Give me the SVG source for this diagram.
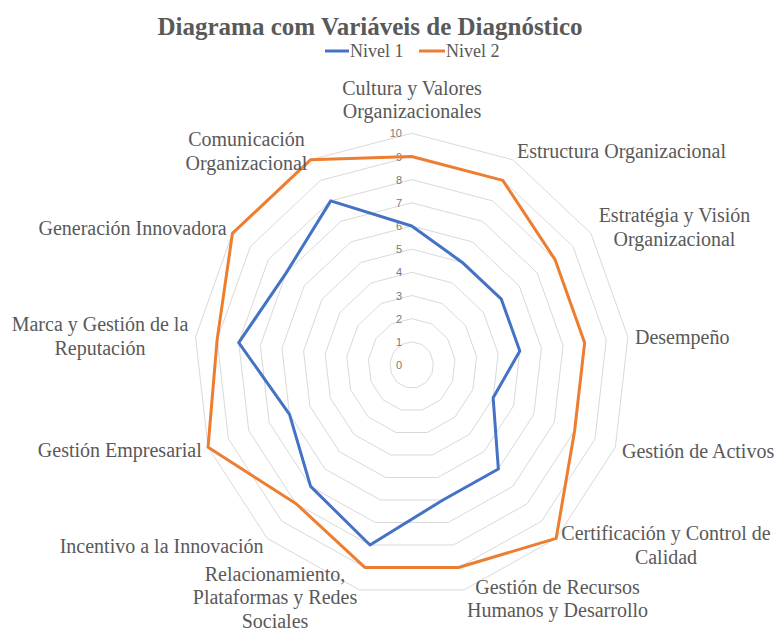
<svg xmlns="http://www.w3.org/2000/svg" width="778" height="630" viewBox="0 0 778 630">
<style>
  .ring{fill:none;stroke:#D9D9D9;stroke-width:1;vector-effect:non-scaling-stroke}
  .tick{font-family:"Liberation Sans",Arial,sans-serif;font-size:11px;fill:#7a7a7a;text-anchor:end}
  .lbl{font-family:"Liberation Serif","Times New Roman",serif;font-size:20px;fill:#595959}
  .mid{text-anchor:middle}
  .end{text-anchor:end}
  .s1{fill:none;stroke:#4472C4;stroke-width:3;stroke-linejoin:round}
  .s2{fill:none;stroke:#ED7D31;stroke-width:3;stroke-linejoin:round}
  .title{font-family:"Liberation Serif","Times New Roman",serif;font-size:25px;font-weight:bold;fill:#595959;text-anchor:middle}
  .leg{font-family:"Liberation Serif","Times New Roman",serif;font-size:18px;fill:#595959}
</style>
<rect width="778" height="630" fill="#FFFFFF"/>
<g id="title"><text class="title" x="370" y="35">Diagrama com Variáveis de Diagnóstico</text></g>
<g id="legend">
  <line x1="325" y1="51" x2="349" y2="51" stroke="#4472C4" stroke-width="3"/>
  <text class="leg" x="350" y="57">Nivel 1</text>
  <line x1="419" y1="51" x2="445" y2="51" stroke="#ED7D31" stroke-width="3"/>
  <text class="leg" x="446" y="57">Nivel 2</text>
</g>
<g id="grid">
  <polygon class="ring" transform="translate(411.7 365) scale(1)" points="0,-23.17 10.122,-20.516 17.925,-13.162 21.621,-2.793 20.365,8.216 14.443,17.343 5.212,22.497 -5.212,22.497 -14.443,17.343 -20.365,8.216 -21.621,-2.793 -17.925,-13.162 -10.122,-20.516"/>
  <polygon class="ring" transform="translate(411.7 365) scale(2)" points="0,-23.17 10.122,-20.516 17.925,-13.162 21.621,-2.793 20.365,8.216 14.443,17.343 5.212,22.497 -5.212,22.497 -14.443,17.343 -20.365,8.216 -21.621,-2.793 -17.925,-13.162 -10.122,-20.516"/>
  <polygon class="ring" transform="translate(411.7 365) scale(3)" points="0,-23.17 10.122,-20.516 17.925,-13.162 21.621,-2.793 20.365,8.216 14.443,17.343 5.212,22.497 -5.212,22.497 -14.443,17.343 -20.365,8.216 -21.621,-2.793 -17.925,-13.162 -10.122,-20.516"/>
  <polygon class="ring" transform="translate(411.7 365) scale(4)" points="0,-23.17 10.122,-20.516 17.925,-13.162 21.621,-2.793 20.365,8.216 14.443,17.343 5.212,22.497 -5.212,22.497 -14.443,17.343 -20.365,8.216 -21.621,-2.793 -17.925,-13.162 -10.122,-20.516"/>
  <polygon class="ring" transform="translate(411.7 365) scale(5)" points="0,-23.17 10.122,-20.516 17.925,-13.162 21.621,-2.793 20.365,8.216 14.443,17.343 5.212,22.497 -5.212,22.497 -14.443,17.343 -20.365,8.216 -21.621,-2.793 -17.925,-13.162 -10.122,-20.516"/>
  <polygon class="ring" transform="translate(411.7 365) scale(6)" points="0,-23.17 10.122,-20.516 17.925,-13.162 21.621,-2.793 20.365,8.216 14.443,17.343 5.212,22.497 -5.212,22.497 -14.443,17.343 -20.365,8.216 -21.621,-2.793 -17.925,-13.162 -10.122,-20.516"/>
  <polygon class="ring" transform="translate(411.7 365) scale(7)" points="0,-23.17 10.122,-20.516 17.925,-13.162 21.621,-2.793 20.365,8.216 14.443,17.343 5.212,22.497 -5.212,22.497 -14.443,17.343 -20.365,8.216 -21.621,-2.793 -17.925,-13.162 -10.122,-20.516"/>
  <polygon class="ring" transform="translate(411.7 365) scale(8)" points="0,-23.17 10.122,-20.516 17.925,-13.162 21.621,-2.793 20.365,8.216 14.443,17.343 5.212,22.497 -5.212,22.497 -14.443,17.343 -20.365,8.216 -21.621,-2.793 -17.925,-13.162 -10.122,-20.516"/>
  <polygon class="ring" transform="translate(411.7 365) scale(9)" points="0,-23.17 10.122,-20.516 17.925,-13.162 21.621,-2.793 20.365,8.216 14.443,17.343 5.212,22.497 -5.212,22.497 -14.443,17.343 -20.365,8.216 -21.621,-2.793 -17.925,-13.162 -10.122,-20.516"/>
  <polygon class="ring" transform="translate(411.7 365) scale(10)" points="0,-23.17 10.122,-20.516 17.925,-13.162 21.621,-2.793 20.365,8.216 14.443,17.343 5.212,22.497 -5.212,22.497 -14.443,17.343 -20.365,8.216 -21.621,-2.793 -17.925,-13.162 -10.122,-20.516"/>
</g>
<g id="ticks">
  <text class="tick" x="402" y="369">0</text>
  <text class="tick" x="402" y="345.8">1</text>
  <text class="tick" x="402" y="322.7">2</text>
  <text class="tick" x="402" y="299.5">3</text>
  <text class="tick" x="402" y="276.3">4</text>
  <text class="tick" x="402" y="253.2">5</text>
  <text class="tick" x="402" y="230">6</text>
  <text class="tick" x="402" y="206.8">7</text>
  <text class="tick" x="402" y="183.6">8</text>
  <text class="tick" x="402" y="160.5">9</text>
  <text class="tick" x="402" y="137.3">10</text>
</g>
<g id="series">
  <polygon id="nivel1" class="s1" points="411.7,226 462.31,262.42 501.33,299.19 519.81,351.03 493.16,397.86 498.36,469.06 442.97,499.98 370,544.98 310.6,486.4 289.51,414.3 238.73,342.66 286.22,272.87 330.72,200.87"/>
  <polygon id="nivel2" class="s2" points="411.7,156.47 502.8,180.36 555.1,259.7 584.67,342.66 574.62,430.73 556.13,538.43 458.61,567.47 364.79,567.47 296.16,503.74 208.05,447.16 217.11,339.86 232.45,233.38 310.48,159.84"/>
</g>
<g id="axis-cultura"><text class="lbl mid" x="412" y="94.5">Cultura y Valores</text><text class="lbl mid" x="412" y="117.5">Organizacionales</text></g>
<g id="axis-estructura"><text class="lbl" x="517" y="157.5">Estructura Organizacional</text></g>
<g id="axis-estrategia"><text class="lbl mid" x="674.5" y="222">Estratégia y Visión</text><text class="lbl mid" x="674.5" y="245.5">Organizacional</text></g>
<g id="axis-desempeno"><text class="lbl" x="635" y="344">Desempeño</text></g>
<g id="axis-activos"><text class="lbl" x="622" y="457.5">Gestión de Activos</text></g>
<g id="axis-certificacion"><text class="lbl mid" x="666" y="540">Certificación y Control de</text><text class="lbl mid" x="666" y="564">Calidad</text></g>
<g id="axis-rrhh"><text class="lbl mid" x="557.5" y="593.5">Gestión de Recursos</text><text class="lbl mid" x="557.5" y="617">Humanos y Desarrollo</text></g>
<g id="axis-relacionamiento"><text class="lbl mid" x="275" y="580.5">Relacionamiento,</text><text class="lbl mid" x="275" y="604">Plataformas y Redes</text><text class="lbl mid" x="275" y="627.5">Sociales</text></g>
<g id="axis-incentivo"><text class="lbl end" x="263.5" y="552.7">Incentivo a la Innovación</text></g>
<g id="axis-empresarial"><text class="lbl end" x="201.7" y="457.3">Gestión Empresarial</text></g>
<g id="axis-marca"><text class="lbl mid" x="100" y="331">Marca y Gestión de la</text><text class="lbl mid" x="100" y="354.5">Reputación</text></g>
<g id="axis-generacion"><text class="lbl end" x="226.7" y="235">Generación Innovadora</text></g>
<g id="axis-comunicacion"><text class="lbl mid" x="246.5" y="146">Comunicación</text><text class="lbl mid" x="246.5" y="169.5">Organizacional</text></g>
</svg>
